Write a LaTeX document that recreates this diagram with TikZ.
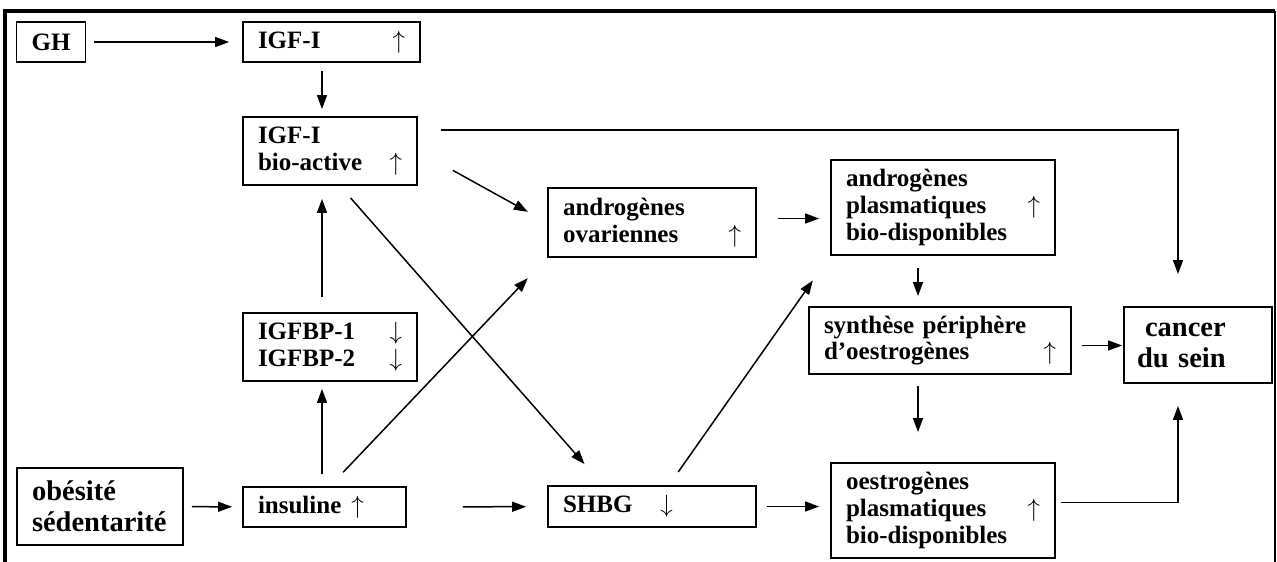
\documentclass[tikz,border=0pt]{standalone}
\usepackage{fontspec}
\setmainfont{Liberation Serif}
\usetikzlibrary{arrows.meta}

\newcommand{\hausse}{$\uparrow$}
\newcommand{\baisse}{$\downarrow$}

\begin{document}
\begin{tikzpicture}[x=1pt, y=-1pt,
        box/.style={rectangle, draw, line width=1.8pt, inner xsep=15pt, inner ysep=0pt, align=left, font=\bfseries\fontsize{25}{26.7}\selectfont},
        bigbox/.style={box, font=\bfseries\fontsize{28.5}{31}\selectfont},
        arrow/.style={-{Triangle[length=14pt, width=10pt]}, line width=1.5pt}
    ]
    \useasboundingbox (0,0) rectangle (1277,562);

    % Cadre
    \draw[line width=4pt] (5,562) -- (5,11) -- (1275,11);
    \draw[line width=2pt] (1275,11) -- (1275,562);

    % Axe GH - IGF
    \node[box, align=center, minimum width=68pt, minimum height=40pt] (gh) at (51,42) {GH};
    \node[box, text width=147pt, minimum height=40pt] (igf) at (331.5,42) {IGF-I\hfill\hausse};
    \node[box, text width=144pt, minimum height=68pt] (bioact) at (330,151) {IGF-I\\bio-active\hfill\hausse\hspace*{12pt}};
    \node[box, text width=144pt, minimum height=68pt] (igfbp) at (330,347) {IGFBP-1\hfill\baisse\\IGFBP-2\hfill\baisse};

    % Facteurs
    \node[bigbox, text width=136pt, minimum height=77pt] (obes) at (100,506.5) {obésité\\sédentarité};
    \node[box, text width=133pt, minimum height=40pt] (insul) at (324.5,507) {insuline\hspace{10pt}\hausse};

    % Hormones
    \node[box, text width=178pt, minimum height=69pt] (andov) at (652,222.5) {androgènes\\ovariennes\hfill\hausse\hspace*{16pt}};
    \node[box, text width=178pt, minimum height=41pt] (shbg) at (652,506.5) {SHBG\hspace{28pt}\baisse};
    \node[box, text width=194pt, minimum height=95pt] (andpl) at (943,207.5) {androgènes\\plasmatiques\hfill\hausse\\bio-disponibles};
    \node[box, text width=232pt, minimum height=67pt] (synth) at (940,340.5) {synthèse périphère\\d’oestrogènes\hfill\hausse};
    \node[box, text width=194pt, minimum height=95pt] (oestpl) at (943,510.5) {oestrogènes\\plasmatiques\hfill\hausse\\bio-disponibles};
    \node[bigbox, inner xsep=13pt, text width=122pt, minimum height=76pt] (cancer) at (1198,345) {\hspace*{8pt}cancer\\du sein};

    % Liaisons
    \draw[arrow, shorten <=8pt, shorten >=13pt] (gh) -- (igf);
    \draw[arrow, shorten <=8pt, shorten >=7pt] ([xshift=-9.5pt]igf.south) -- ([xshift=-8pt]bioact.north);
    \draw[arrow, shorten <=15pt, shorten >=13pt] ([xshift=-8pt]igfbp.north) -- ([xshift=-8pt]bioact.south);
    \draw[arrow, shorten <=12pt, shorten >=7pt] ([xshift=-2.5pt]insul.north) -- ([xshift=-8pt]igfbp.south);
    \draw[arrow, shorten <=23pt, shorten >=32pt] ([yshift=21pt]bioact.east) -| ([xshift=-20pt]cancer.north);
    \draw[arrow, shorten <=40pt, shorten >=22pt] (bioact.east) -- (andov.west);
    \draw[arrow, shorten <=16pt, shorten >=28pt] ([xshift=10pt]bioact.south) -- ([xshift=-49pt]shbg.north);
    \draw[arrow, shorten <=19pt, shorten >=28pt] ([xshift=5.5pt]insul.north) -- (andov.south west);
    \draw[arrow, shorten <=8pt, shorten >=10pt] (obes) -- (insul);
    \draw[arrow, shorten <=56pt, shorten >=21pt] (insul) -- (shbg);
    \draw[arrow, shorten <=21pt, shorten >=11pt] ([yshift=4pt]andov.east) -- ([yshift=4pt]andov.east -| andpl.west);
    \draw[arrow, shorten <=16pt, shorten >=30pt] ([xshift=17pt]shbg.north) -- (andpl.south west);
    \draw[arrow, shorten <=10pt, shorten >=11pt] (shbg.east) -- (shbg.east -| oestpl.west);
    \draw[arrow, shorten <=12pt, shorten >=10pt] ([xshift=-25pt]andpl.south) -- ([xshift=-22pt]synth.north);
    \draw[arrow, shorten <=11pt, shorten >=30pt] ([xshift=-22pt]synth.south) -- ([xshift=-25pt]oestpl.north);
    \draw[arrow, shorten <=10pt, shorten >=1pt] ([yshift=-5pt]synth.east) -- ([yshift=-5pt]synth.east -| cancer.west);
    \draw[arrow, shorten <=5pt, shorten >=22pt] ([yshift=8pt]oestpl.east) -| ([xshift=-20pt]cancer.south);

\end{tikzpicture}
\end{document}
